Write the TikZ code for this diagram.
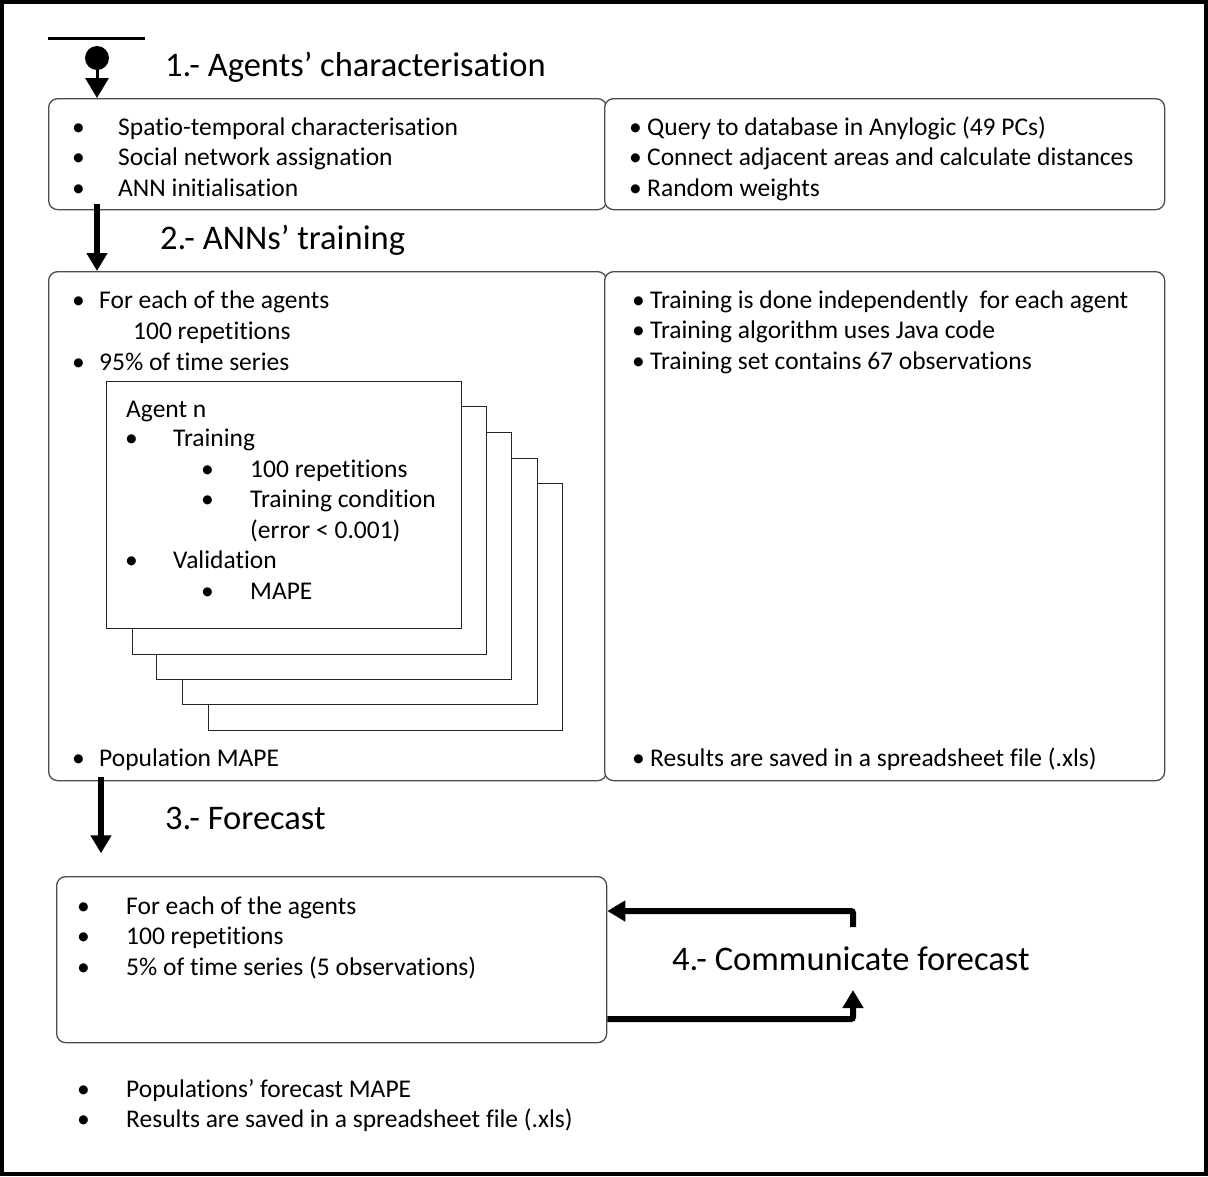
\documentclass[tikz,border=0pt]{standalone}
\usepackage{fontspec}
\setmainfont{Carlito}[RawFeature={-liga;-clig;-calt;-dlig}]
\usetikzlibrary{arrows.meta,calc}

% one bulleted line: name, bullet x, text x, baseline y, text
\newcommand\bitem[5]{%
  \node[body] (#1b) at (#2,#4) {\textbullet};
  \node[body] (#1) at (#3,#4) {#5};}

\begin{document}
\begin{tikzpicture}[x=1pt,y=-1pt,
  panel/.style={draw=black!70, line width=1.3pt, rounded corners=9pt, fill=white,
                inner sep=0pt, anchor=north west},
  card/.style={draw=black!85, line width=1.3pt, fill=white, inner sep=0pt, anchor=north west},
  flow/.style={line width=6pt, -{Triangle[length=18pt,width=20pt]}},
  body/.style={anchor=base west, inner sep=0pt, font=\fontsize{25.5}{30}\selectfont},
  head/.style={anchor=base west, inner sep=0pt, font=\fontsize{34.5}{40}\selectfont},
]
\useasboundingbox (0,0) rectangle (1208,1176);
\draw[line width=4pt] (2,2) rectangle (1206,1174);

% ---- step 1: agents' characterisation
\draw[line width=3pt] (48,38) -- (145,38);
\node[circle, fill=black, minimum size=24pt, inner sep=0pt] (startdot) at (97,58) {};
\node[panel, minimum width=558pt, minimum height=111pt] (p1a) at (48,98) {};
\node[panel, minimum width=560pt, minimum height=111pt] (p1b) at (604,98) {};
\draw[line width=3pt, -{Triangle[length=20pt,width=23pt]}] (startdot.center) -- (startdot.center |- p1a.north);
\node[head] (h1) at (165,76) {1.- Agents’ characterisation};

\bitem{a1}{72}{118}{135}{Spatio-temporal characterisation}
\bitem{a2}{72}{118}{165}{Social network assignation}
\bitem{a3}{72}{118}{196}{ANN initialisation}
\bitem{a4}{629}{647}{135}{Query to database in Anylogic (49 PCs)}
\bitem{a5}{629}{647}{165}{Connect adjacent areas and calculate distances}
\bitem{a6}{629}{647}{196}{Random weights}

% ---- step 2: ANNs' training
\node[panel, minimum width=558pt, minimum height=509pt] (p2a) at (48,271) {};
\node[panel, minimum width=560pt, minimum height=509pt] (p2b) at (604,271) {};
\coordinate (s2) at ($(p1a.south west)+(49,-6)$);
\draw[flow] (s2) -- (s2 |- p2a.north);
\node[head] (h2) at (160,249) {2.- ANNs’ training};

\bitem{b1}{72}{99}{308}{For each of the agents}
\node[body] (b1x) at (133,339) {100 repetitions};
\bitem{b2}{72}{99}{370}{95\% of time series}
\bitem{b3}{72}{99}{766}{Population MAPE}
\bitem{b4}{632}{650}{308}{Training is done independently\ \ for each agent}
\bitem{b5}{632}{650}{338}{Training algorithm uses Java code}
\bitem{b6}{632}{650}{369}{Training set contains 67 observations}
\bitem{b7}{632}{650}{766}{Results are saved in a spreadsheet file (.xls)}

% stack of agent cards, back to front
\node[card, minimum width=354pt, minimum height=247pt] (c5) at (208,483) {};
\node[card, minimum width=355pt, minimum height=246pt] (c4) at (182,458) {};
\node[card, minimum width=355pt, minimum height=247pt] (c3) at (156,432) {};
\node[card, minimum width=354pt, minimum height=248pt] (c2) at (132,406) {};
\node[card, minimum width=355pt, minimum height=247pt] (c1) at (106,381) {};

\node[body] (n0) at (126,417) {Agent n};
\bitem{n1}{125}{173}{446}{Training}
\bitem{n2}{201}{250}{477}{100 repetitions}
\bitem{n3}{201}{250}{507}{Training condition}
\node[body] (n3x) at (250,538) {(error < 0.001)};
\bitem{n4}{125}{173}{568}{Validation}
\bitem{n5}{201}{250}{599}{MAPE}

% ---- step 3: forecast
\node[panel, minimum width=550pt, minimum height=166pt] (p3) at (56,876) {};
\coordinate (s3) at ($(p2a.south west)+(53,-4)$);
\draw[flow] (s3) -- ($(s3)+(0,76)$) coordinate (s3end);
\node[head] (h3) at (165,829) {3.- Forecast};

\bitem{f1}{77}{126}{914}{For each of the agents}
\bitem{f2}{77}{126}{944}{100 repetitions}
\bitem{f3}{77}{126}{975}{5\% of time series (5 observations)}

% ---- step 4: communicate forecast
\node[head] (h4) at (672,970) {4.- Communicate forecast};
\coordinate (r4top) at (853,927);
\coordinate (r4bot) at (853,990);
\draw[flow, rounded corners=2pt] (r4top) |- ($(p3.north east)+(0,35)$);
\draw[flow, rounded corners=2pt] ($(p3.north east)+(0,143)$) -| (r4bot);

\bitem{g1}{77}{126}{1097}{Populations’ forecast MAPE}
\bitem{g2}{77}{126}{1127}{Results are saved in a spreadsheet file (.xls)}
\end{tikzpicture}
\end{document}
